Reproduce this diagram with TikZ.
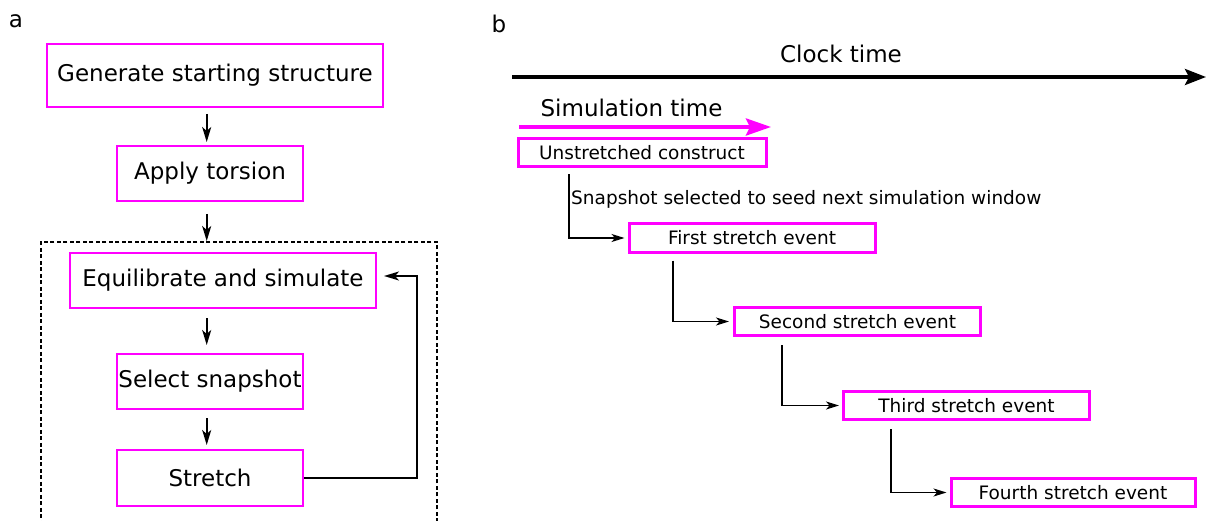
\documentclass[tikz,border=0pt]{standalone}
\usepackage{fontspec}
\setmainfont{DejaVu Sans}
\usetikzlibrary{arrows.meta,calc}
\definecolor{mag}{RGB}{255,0,255}
\begin{document}
\begin{tikzpicture}[x=1pt,y=-1pt,
  big/.style={font=\fontsize{23}{27}\selectfont},
  small/.style={font=\fontsize{18.5}{22}\selectfont},
  abox/.style={draw=mag, line width=2pt, inner sep=0pt, big, minimum height=55pt},
  bbox/.style={draw=mag, line width=3pt, inner sep=0pt, small, minimum width=246pt, minimum height=28pt},
  arr/.style={line width=1.7pt, -{Stealth[length=15pt,width=9pt,inset=4pt]}},
  conn/.style={line width=1.5pt, -{Stealth[length=13pt,width=8pt,inset=3.5pt]}},
  loopbox/.style={draw=black, line width=1.8pt, dash pattern=on 4pt off 2.5pt, inner sep=0pt},
  plain/.style={inner sep=0pt}
]
\useasboundingbox (0,0) rectangle (1206,521);
\fill[white] (0,0) rectangle (1206,521);
\clip (0,0) rectangle (1206,521);

% ---------- panel a ----------
\node[plain, font=\fontsize{23}{27}\selectfont] (la) at (16,21.5) {a};

\node[abox, minimum width=336pt, minimum height=63pt] (gen) at (215,75.5) {Generate starting structure};
\node[abox, minimum width=186pt] (app) at (210,173.5) {Apply torsion};
\node[loopbox, anchor=north west, minimum width=396pt, minimum height=320pt] (loop) at (40,241) {};
\node[abox, minimum width=306pt] (equ) at (223,280.5) {Equilibrate and simulate};
\node[abox, minimum width=186pt] (sel) at (210,381.5) {Select snapshot};
\node[abox, minimum width=186pt, minimum height=56pt] (str) at (210,478) {Stretch};

\coordinate (ax) at (206.7,0);
\coordinate (fb) at (417,0);
\draw[arr, shorten <=6pt, shorten >=3pt] (gen.south -| ax) -- (app.north -| ax);
\draw[arr, shorten <=12pt] (app.south -| ax) -- (loop.north -| ax);
\draw[arr, shorten <=9pt, shorten >=8pt] (equ.south -| ax) -- (sel.north -| ax);
\draw[arr, shorten <=8pt, shorten >=4pt] (sel.south -| ax) -- (str.north -| ax);
\draw[arr, shorten >=7pt] (str.east) -- (str.east -| fb) -- ([yshift=4.5pt]equ.east -| fb) -- ([yshift=4.5pt]equ.east);

% ---------- panel b ----------
\node[plain, font=\fontsize{23}{27}\selectfont, anchor=base] (lb) at (499,33) {b};

\coordinate (clk0) at (512,77);
\coordinate (clk1) at (1206,77);
\draw[line width=3.5pt, -{Stealth[length=21pt,width=16pt,inset=4pt]}] (clk0) -- (clk1);
\node[plain, big, anchor=base] (clocklab) at (841,63) {Clock time};

\coordinate (sim0) at (519,127);
\coordinate (sim1) at (771,127);
\draw[mag, line width=4pt, -{Stealth[length=25pt,width=17pt,inset=4pt]}] (sim0) -- (sim1);
\node[plain, big, anchor=base] (simlab) at (631.5,117) {Simulation time};

\node[bbox, minimum width=248pt] (uc) at (642,153) {Unstretched construct};
\node[bbox] (fs) at (752,238) {First stretch event};
\node[bbox] (ss) at (857.5,321.5) {Second stretch event};
\node[bbox] (ts) at (966.5,405.5) {Third stretch event};
\node[bbox, minimum width=244pt] (fo) at (1073,492.5) {Fourth stretch event};

\coordinate (v1) at (569,0);
\coordinate (v2) at (673,0);
\coordinate (v3) at (782,0);
\coordinate (v4) at (891,0);
\draw[conn, shorten <=6pt, shorten >=3pt] (uc.south -| v1) -- (fs.west -| v1) -- (fs.west);
\draw[conn, shorten <=7pt, shorten >=4pt] (fs.south -| v2) -- (ss.west -| v2) -- (ss.west);
\draw[conn, shorten <=8pt, shorten >=3pt] (ss.south -| v3) -- (ts.west -| v3) -- (ts.west);
\draw[conn, shorten <=8pt, shorten >=3pt] (ts.south -| v4) -- (fo.west -| v4) -- (fo.west);

\node[plain, small, anchor=base west] (snaplab) at (571,205) {Snapshot selected to seed next simulation window};
\end{tikzpicture}
\end{document}
